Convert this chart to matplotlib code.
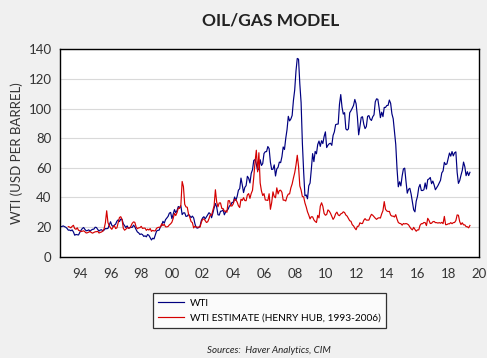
import matplotlib
matplotlib.use("Agg")
import matplotlib.pyplot as plt
import numpy as np

# monthly WTI (USD per barrel), Jan 1993 .. Sep 2019
wti = [
    20.3, 20.4, 20.8, 20.3, 19.9, 19.1, 17.9, 18.0, 17.5, 18.1, 16.7, 14.5,  # 1993
    15.0, 14.8, 14.7, 16.4, 17.9, 19.1, 19.7, 18.4, 17.5, 17.7, 18.1, 17.2,  # 1994
    18.0, 18.5, 18.6, 19.9, 19.7, 18.4, 17.3, 18.0, 18.2, 17.4, 18.0, 19.0,  # 1995
    18.9, 19.1, 21.4, 23.6, 21.2, 20.4, 21.3, 22.0, 24.0, 24.9, 23.7, 25.4,  # 1996
    25.2, 22.2, 21.0, 19.7, 20.8, 19.2, 19.6, 19.9, 19.8, 21.3, 20.2, 18.3,  # 1997
    16.7, 16.1, 15.0, 15.4, 14.9, 13.7, 14.1, 13.4, 15.0, 14.4, 12.9, 11.3,  # 1998
    12.5, 12.0, 14.7, 17.3, 17.8, 17.9, 20.1, 21.3, 23.9, 22.6, 25.0, 26.1,  # 1999
    27.2, 29.4, 29.9, 25.7, 28.8, 31.8, 29.7, 31.2, 33.9, 33.1, 34.4, 28.4,  # 2000
    29.6, 29.6, 27.2, 27.4, 28.6, 27.6, 26.4, 27.4, 26.2, 22.2, 19.6, 19.3,  # 2001
    19.7, 20.7, 24.4, 26.2, 27.0, 25.5, 26.9, 28.4, 29.7, 28.9, 26.3, 29.4,  # 2002
    32.9, 35.9, 33.6, 28.3, 28.1, 30.7, 30.8, 31.6, 28.3, 30.3, 31.1, 32.2,  # 2003
    34.3, 34.7, 36.7, 36.7, 40.3, 38.0, 40.7, 44.9, 45.9, 53.1, 48.5, 43.3,  # 2004
    46.8, 48.0, 54.3, 53.0, 49.8, 56.3, 58.7, 65.0, 65.6, 62.4, 58.3, 59.4,  # 2005
    65.5, 61.6, 62.9, 69.7, 70.9, 71.0, 74.4, 73.0, 63.8, 58.9, 59.1, 62.0,  # 2006
    54.5, 59.3, 60.4, 63.9, 63.5, 67.5, 74.1, 72.4, 79.9, 85.8, 94.8, 91.7,  # 2007
    93.0, 95.4, 105.5, 112.6, 125.4, 133.9, 133.4, 116.7, 104.1, 76.6, 57.3, 41.1,  # 2008
    41.7, 39.1, 47.9, 49.7, 59.0, 69.6, 64.2, 71.1, 69.5, 75.8, 78.1, 74.5,  # 2009
    78.3, 76.4, 81.2, 84.3, 73.7, 75.3, 76.3, 76.6, 75.2, 81.9, 84.3, 89.2,  # 2010
    89.5, 89.6, 102.9, 109.5, 100.9, 96.3, 97.3, 86.3, 85.5, 86.3, 97.2, 98.6,  # 2011
    100.3, 102.2, 106.2, 103.3, 94.7, 82.3, 87.9, 94.1, 94.5, 89.5, 86.5, 87.9,  # 2012
    94.8, 95.3, 92.9, 92.0, 94.5, 95.8, 104.6, 106.6, 106.3, 100.5, 93.9, 97.6,  # 2013
    94.6, 100.8, 100.8, 102.1, 102.2, 105.8, 103.6, 96.5, 93.2, 84.4, 75.8, 59.3,  # 2014
    47.2, 50.6, 47.8, 54.5, 59.3, 59.8, 50.9, 42.9, 45.5, 46.2, 42.4, 37.2,  # 2015
    31.7, 30.3, 37.5, 40.8, 46.7, 48.8, 44.7, 44.7, 45.2, 49.8, 45.7, 52.0,  # 2016
    52.5, 53.5, 49.3, 51.1, 48.5, 45.2, 46.6, 48.0, 49.8, 51.6, 56.6, 57.9,  # 2017
    63.7, 62.2, 62.7, 66.3, 70.0, 67.9, 71.0, 68.1, 70.2, 70.8, 57.0, 49.5,  # 2018
    51.4, 55.0, 58.2, 63.9, 60.8, 54.7, 57.4, 54.8, 57.0,                    # 2019
]

# monthly WTI estimate from Henry Hub, Jul 1993 .. Sep 2019
wti_est = [
    20.3, 20.0, 19.5, 20.5, 21.2, 19.0,                                      # 1993 H2
    18.5, 19.5, 17.8, 17.5, 17.0, 17.2, 17.5, 16.8, 16.0, 16.2, 16.6, 17.0,  # 1994
    16.3, 15.9, 16.4, 16.8, 16.9, 17.1, 16.0, 16.4, 16.7, 17.3, 18.9, 23.0,  # 1995
    31.0, 23.0, 21.0, 19.5, 18.5, 20.0, 21.0, 19.0, 19.5, 23.0, 26.5, 27.0,  # 1996
    25.2, 19.2, 17.9, 18.6, 19.6, 19.4, 19.3, 20.8, 22.6, 23.5, 23.2, 20.1,  # 1997
    18.9, 19.5, 19.6, 20.5, 19.1, 19.3, 19.3, 17.8, 18.6, 18.0, 19.0, 17.1,  # 1998
    17.8, 17.4, 17.5, 19.2, 19.7, 19.9, 19.9, 22.2, 21.0, 21.9, 20.2, 20.1,  # 1999
    20.4, 21.5, 22.2, 23.3, 25.9, 29.2, 27.8, 29.8, 32.8, 32.6, 34.9, 50.8,  # 2000
    47.3, 35.4, 33.6, 33.4, 28.7, 26.5, 23.7, 23.0, 19.4, 20.6, 20.1, 19.9,  # 2001
    20.0, 20.0, 23.3, 25.2, 25.5, 24.4, 23.1, 23.6, 25.7, 28.4, 28.0, 31.3,  # 2002
    34.5, 45.2, 36.9, 33.7, 36.3, 36.3, 32.6, 32.5, 30.7, 30.8, 30.0, 37.8,  # 2003
    37.8, 34.2, 34.3, 35.8, 38.7, 38.4, 36.9, 34.4, 33.2, 38.8, 38.0, 39.9,  # 2004
    37.9, 37.8, 41.7, 42.6, 39.4, 42.7, 44.8, 53.7, 64.1, 71.9, 57.3, 70.2,  # 2005
    49.8, 44.4, 41.3, 42.6, 38.3, 38.2, 38.0, 42.5, 32.0, 36.5, 43.8, 40.6,  # 2006
    39.8, 46.5, 42.4, 44.7, 44.9, 43.5, 38.2, 38.2, 37.6, 40.6, 42.3, 42.4,  # 2007
    46.5, 49.1, 53.1, 56.7, 61.8, 68.5, 61.0, 47.8, 45.0, 40.6, 40.4, 36.3,  # 2008
    33.6, 30.3, 28.1, 25.5, 27.0, 26.9, 24.9, 23.8, 23.1, 27.9, 26.2, 34.1,  # 2009
    36.4, 34.0, 29.2, 28.0, 28.5, 31.6, 30.8, 29.3, 27.3, 25.2, 26.5, 29.0,  # 2010
    30.1, 28.2, 27.7, 28.9, 29.3, 30.3, 29.8, 28.1, 27.4, 25.8, 24.3, 23.9,  # 2011
    21.6, 20.8, 19.3, 18.2, 20.5, 20.6, 22.9, 22.4, 22.4, 24.6, 25.7, 24.7,  # 2012
    24.7, 24.7, 26.9, 28.6, 28.0, 27.0, 26.0, 25.2, 26.0, 26.3, 26.1, 28.9,  # 2013
    31.1, 37.2, 32.0, 30.9, 30.5, 30.6, 28.1, 27.4, 27.4, 26.8, 28.4, 25.4,  # 2014
    23.1, 22.5, 22.3, 21.3, 22.4, 22.1, 22.4, 22.1, 21.5, 20.1, 18.9, 18.1,  # 2015
    19.8, 18.4, 17.2, 18.1, 18.1, 21.2, 22.3, 22.3, 23.1, 23.0, 21.0, 25.9,  # 2016
    24.5, 22.4, 22.6, 23.6, 23.8, 23.0, 23.0, 22.7, 23.0, 22.6, 23.2, 22.3,  # 2017
    27.2, 21.6, 21.7, 22.2, 22.2, 23.0, 22.3, 23.0, 23.1, 24.4, 28.2, 28.0,  # 2018
    23.7, 21.7, 22.9, 21.5, 21.5, 20.3, 20.2, 19.5, 21.1,                    # 2019
]

year_labels = ["94", "96", "98", "00", "02", "04", "06", "08",
               "10", "12", "14", "16", "18", "20"]

# dates as decimal years (mid month)
t_wti = 1993 + (np.arange(len(wti)) + 0.5) / 12
t_est = 1993.5 + (np.arange(len(wti_est)) + 0.5) / 12

plt.rcParams['font.family'] = ['Lato', 'DejaVu Sans']

bg = "#f0f0f0"
fig = plt.figure(figsize=(4.87, 3.58), dpi=100, facecolor=bg)
ax = fig.add_axes([0.1232, 0.283, 0.8604, 0.579])
ax.set_facecolor("white")

ax.plot(t_wti, wti, color="#000080", lw=0.85, label="WTI")
ax.plot(t_est, wti_est, color="#d40000", lw=0.85,
        label="WTI ESTIMATE (HENRY HUB, 1993-2006)")

ax.set_xlim(1993.0, 2020.3)
ax.set_ylim(0, 140)
ax.set_yticks(np.arange(0, 141, 20))
ax.grid(axis="y", color="#d9d9d9", lw=0.8)
ax.set_axisbelow(True)

xt = [1994.3 + 2 * i for i in range(len(year_labels))]
ax.set_xticks(xt)
ax.set_xticklabels(year_labels)
ax.tick_params(axis="both", length=0, labelsize=9.5, colors="#333333")
ax.tick_params(axis="x", pad=8)
ax.tick_params(axis="y", pad=6)

for s in ax.spines.values():
    s.set_color("black")
    s.set_linewidth(1.0)

ax.set_ylabel("WTI (USD PER BARREL)", fontsize=9.5, color="#333333", labelpad=4)

fig.suptitle("OIL/GAS MODEL", fontsize=12.5, fontweight="bold", y=0.965,
             x=0.555, color="#222222")

leg = fig.legend(loc="center", bbox_to_anchor=(0.553, 0.133), fontsize=7.3,
                 frameon=True, fancybox=False, edgecolor="black",
                 handlelength=2.5, handletextpad=0.6, borderpad=0.55,
                 labelspacing=0.55)
leg.get_frame().set_linewidth(0.9)

fig.text(0.553, 0.02, "Sources:  Haver Analytics, CIM", fontsize=7,
         style="italic", ha="center", va="center", color="#222222")

fig.savefig("out.png", dpi=100, facecolor=bg)
